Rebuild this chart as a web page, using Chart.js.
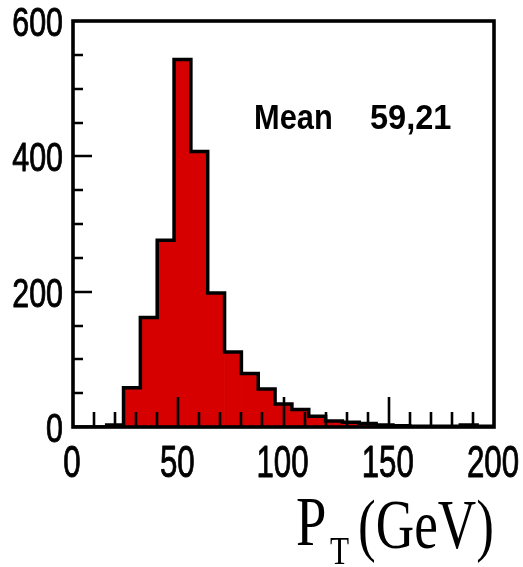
<!DOCTYPE html>
<html>
<head>
<meta charset="utf-8">
<script src="https://cdn.jsdelivr.net/npm/chart.js@4/dist/chart.umd.min.js"></script>
<style>
  html, body { margin: 0; padding: 0; background: #fff; }
  #wrap { width: 523px; height: 567px; }
</style>
</head>
<body>
<div id="wrap"><canvas id="c" width="523" height="567"></canvas></div>
<script>
// Histogram of transverse momentum, 8 GeV bins from 0 to 200
const binLow = [0, 8, 16, 24, 32, 40, 48, 56, 64, 72, 80, 88, 96, 104, 112, 120, 128, 136, 144, 152, 160, 168, 176, 184, 192];
const binWidth = 8;
const counts = [0, 0, 3, 58, 162, 276, 543, 407, 198, 111, 79, 56, 34, 26, 16, 9, 7, 5, 3, 2, 1, 1, 1, 3, 1];
const xTickLabels = [0, 50, 100, 150, 200];
const yTickLabels = [0, 200, 400, 600];
const meanLabel = 'Mean';
const meanValue = '59,21';

const RED = '#d60000';
const SANS = '"Liberation Sans", Arial, sans-serif';
const SERIF = '"Liberation Serif", "DejaVu Serif", serif';

// bars sit at bin centres; outline is a step line through the bin edges
const barData = binLow.map((lo, i) => ({ x: lo + binWidth / 2, y: counts[i] }));
const outlineData = binLow.map((lo, i) => ({ x: lo, y: counts[i] }));
outlineData.push({ x: binLow[binLow.length - 1] + binWidth, y: 0 });

// draw text squeezed horizontally (narrow Helvetica-like look)
function narrowText(ctx, text, x, y, font, sx, align, weight) {
  ctx.save();
  ctx.scale(sx, 1);
  ctx.font = font;
  ctx.textAlign = align || 'left';
  ctx.fillText(text, x / sx, y);
  if (weight) {
    ctx.lineWidth = weight;
    ctx.strokeText(text, x / sx, y);
  }
  ctx.restore();
}

// inward tick marks, frame, tick labels, stats text and axis title
const histDecor = {
  id: 'histDecor',
  afterDatasetsDraw(chart) {
    const { ctx, chartArea: a, scales: { x, y } } = chart;
    ctx.save();
    ctx.strokeStyle = '#000';
    ctx.lineCap = 'butt';
    ctx.lineWidth = 2.6;
    ctx.beginPath();
    for (let v = 10; v < 200; v += 10) {
      const px = Math.round(x.getPixelForValue(v));
      const len = v % 50 === 0 ? 30 : 15;
      ctx.moveTo(px, a.bottom);
      ctx.lineTo(px, a.bottom - len);
    }
    for (let v = 50; v < 600; v += 50) {
      const py = Math.round(y.getPixelForValue(v));
      const len = v % 200 === 0 ? 19 : 10;
      ctx.moveTo(a.left, py);
      ctx.lineTo(a.left + len, py);
    }
    ctx.stroke();

    ctx.lineWidth = 3.6;
    ctx.lineJoin = 'miter';
    ctx.strokeRect(a.left, a.top, a.right - a.left, a.bottom - a.top);

    ctx.fillStyle = '#000';
    ctx.textBaseline = 'alphabetic';
    ctx.lineJoin = 'round';

    // tick labels
    for (const v of xTickLabels) {
      narrowText(ctx, String(v), x.getPixelForValue(v) - 1, a.bottom + 50, '44px ' + SANS, 0.71, 'center', 0.9);
    }
    for (const v of yTickLabels) {
      narrowText(ctx, String(v), a.left - 10, y.getPixelForValue(v) + 15, '40px ' + SANS, 0.76, 'right', 0.9);
    }

    // statistics text
    narrowText(ctx, meanLabel, 254, 129, 'bold 35px ' + SANS, 0.88);
    narrowText(ctx, meanValue, 370, 129, 'bold 35px ' + SANS, 0.93);

    // axis title P_T (GeV)
    narrowText(ctx, 'P', 296, 545, '70px ' + SERIF, 0.78);
    narrowText(ctx, 'T', 330, 564, '40px ' + SERIF, 0.78);
    narrowText(ctx, '(GeV)', 358, 548, '70px ' + SERIF, 0.76);
    ctx.restore();
  }
};

new Chart(document.getElementById('c'), {
  type: 'bar',
  data: {
    datasets: [
      {
        type: 'line',
        data: outlineData,
        stepped: true,
        borderColor: '#000',
        borderWidth: 3.5,
        borderJoinStyle: 'miter',
        borderCapStyle: 'butt',
        pointRadius: 0,
        fill: false,
        order: 0
      },
      {
        type: 'bar',
        data: barData,
        backgroundColor: RED,
        borderWidth: 0,
        barPercentage: 1,
        categoryPercentage: 1,
        order: 1
      }
    ]
  },
  options: {
    responsive: false,
    animation: false,
    devicePixelRatio: 1,
    layout: { padding: { left: 0, right: 29, top: 21, bottom: 0 } },
    plugins: { legend: { display: false }, tooltip: { enabled: false } },
    scales: {
      x: {
        type: 'linear',
        min: 0,
        max: 200,
        offset: false,
        grid: { display: false, drawTicks: false },
        border: { display: false },
        ticks: { display: false, stepSize: 50 },
        afterFit(s) { s.height = 140; s.paddingLeft = 0; s.paddingRight = 0; }
      },
      y: {
        min: 0,
        max: 600,
        grid: { display: false, drawTicks: false },
        border: { display: false },
        ticks: { display: false, stepSize: 200 },
        afterFit(s) { s.width = 73; s.paddingTop = 0; s.paddingBottom = 0; }
      }
    }
  },
  plugins: [histDecor]
});
</script>
</body>
</html>
